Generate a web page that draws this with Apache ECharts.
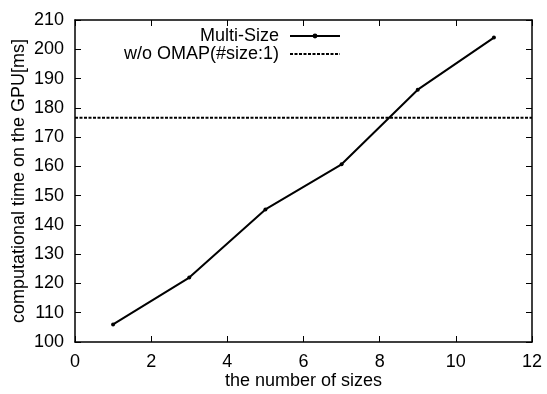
<!DOCTYPE html>
<html><head><meta charset="utf-8">
<script src="https://cdn.jsdelivr.net/npm/echarts@6/dist/echarts.min.js"></script>
<style>html,body{margin:0;padding:0;background:#fff}#c{width:547px;height:394px}</style>
</head><body><div id="c"></div>
<script>
const sizes = [1, 3, 5, 7, 9, 11];
const multiSize = [106, 122, 145.3, 160.7, 186.2, 204];
const baselineX = [0, 12];
const baselineValue = 176.6;
const xTicks = [0, 2, 4, 6, 8, 10, 12];
const yTicks = [100, 110, 120, 130, 140, 150, 160, 170, 180, 190, 200, 210];

const font = 'Liberation Sans, Arial, Helvetica, sans-serif';
const chart = echarts.init(document.getElementById('c'));
const lineCommon = {
  axisLine: {show: true, onZero: false, lineStyle: {color: '#000', width: 1.5}},
  axisTick: {show: true, inside: true, length: 6, lineStyle: {color: '#000', width: 1}},
  splitLine: {show: false}
};
chart.setOption({
  animation: false,
  backgroundColor: '#fff',
  textStyle: {fontFamily: font},
  grid: {left: 75, right: 15, top: 20, bottom: 52, containLabel: false, outerBoundsMode: 'none'},
  legend: {
    orient: 'vertical', align: 'right', right: 206, top: 27, itemGap: 0, padding: 0,
    itemWidth: 50, itemHeight: 6,
    textStyle: {color: '#000', fontSize: 18, lineHeight: 17, fontFamily: font, padding: [0, 6, 0, 0]},
    data: [{name: 'Multi-Size'}, {name: 'w/o OMAP(#size:1)', itemStyle: {opacity: 0}}]
  },
  xAxis: [
    Object.assign({type: 'value', min: 0, max: 12, interval: 2, position: 'bottom',
      name: 'the number of sizes', nameLocation: 'middle', nameGap: 30, nameMoveOverlap: false,
      nameTextStyle: {color: '#000', fontSize: 18, fontFamily: font},
      axisLabel: {color: '#000', fontSize: 18, fontFamily: font, margin: 11,
        formatter: v => xTicks.includes(v) ? String(v) : ''}}, lineCommon),
    Object.assign({type: 'value', min: 0, max: 12, interval: 2, position: 'top',
      axisLabel: {show: false}}, lineCommon)
  ],
  yAxis: [
    Object.assign({type: 'value', min: 100, max: 210, interval: 10, position: 'left',
      name: 'computational time on the GPU[ms]', nameLocation: 'middle', nameGap: 47, nameMoveOverlap: false,
      nameTextStyle: {color: '#000', fontSize: 18, fontFamily: font},
      axisLabel: {color: '#000', fontSize: 18, fontFamily: font, margin: 11,
        formatter: v => yTicks.includes(v) ? String(v) : ''}}, lineCommon),
    Object.assign({type: 'value', min: 100, max: 210, interval: 10, position: 'right',
      axisLabel: {show: false}}, lineCommon)
  ],
  series: [
    {
      name: 'Multi-Size', type: 'line', xAxisIndex: 0, yAxisIndex: 0,
      data: sizes.map((s, i) => [s, multiSize[i]]),
      symbol: 'circle', symbolSize: 4, showAllSymbol: true,
      lineStyle: {color: '#000', width: 2},
      itemStyle: {color: '#000'}
    },
    {
      name: 'w/o OMAP(#size:1)', type: 'line', xAxisIndex: 0, yAxisIndex: 0,
      data: baselineX.map(x => [x, baselineValue]),
      symbol: 'none',
      lineStyle: {color: '#000', width: 2, type: [3, 1.5]},
      itemStyle: {color: '#000'}
    }
  ]
});
</script></body></html>
